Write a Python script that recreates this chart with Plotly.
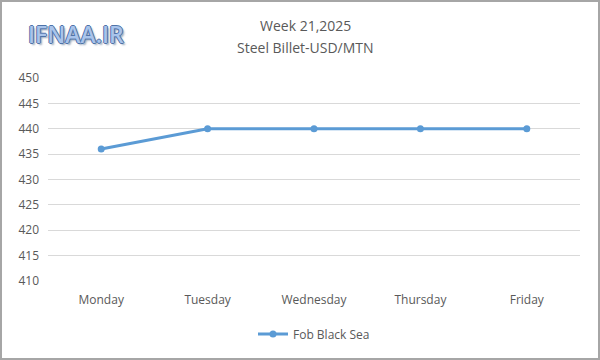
import plotly.graph_objects as go

days = ["Monday", "Tuesday", "Wednesday", "Thursday", "Friday"]
fob_black_sea = [436, 440, 440, 440, 440]
y_ticks = [410, 415, 420, 425, 430, 435, 440, 445, 450]

W, H = 600, 360
L, R, T, B = 48, 20, 78, 79

fig = go.Figure()
fig.add_trace(go.Scatter(
    x=days, y=fob_black_sea, mode="lines+markers", name="Fob Black Sea",
    line=dict(color="#5B9BD5", width=3),
    marker=dict(color="#5B9BD5", size=7),
))

pw = W - L - R
ph = H - T - B
def px(x):
    return (x - L) / pw
def py(y):
    return (H - B - y) / ph

fig.update_layout(
    width=W, height=H,
    margin=dict(l=L, r=R, t=T, b=B, autoexpand=False),
    paper_bgcolor="white", plot_bgcolor="white",
    font=dict(family="Open Sans, Liberation Sans, sans-serif", color="#595959", size=12),
    showlegend=True,
    legend=dict(orientation="h", x=0.5, xanchor="center", y=py(334), yanchor="middle",
                font=dict(size=12, color="#595959")),
    xaxis=dict(type="category", range=[-0.5, 4.5], showgrid=False, showline=False,
               zeroline=False, ticks="", automargin=False, ticklabelstandoff=10,
               tickfont=dict(size=12, color="#595959")),
    yaxis=dict(range=[410, 450], tickvals=y_ticks, showgrid=True, gridcolor="#D9D9D9",
               gridwidth=1, zeroline=False, showline=False, ticks="", automargin=False,
               tickfont=dict(size=12, color="#595959"), ticklabelstandoff=8),
    annotations=[
        dict(text="Week 21,2025", x=px(305), y=py(25),
             xref="paper", yref="paper", showarrow=False, xanchor="center", yanchor="middle",
             font=dict(size=14, color="#595959")),
        dict(text="Steel Billet-USD/MTN", x=px(305), y=py(47),
             xref="paper", yref="paper", showarrow=False, xanchor="center", yanchor="middle",
             font=dict(size=14, color="#595959")),
        dict(text="IFNAA.IR", x=px(26), y=py(34), xref="paper", yref="paper",
             showarrow=False, xanchor="left", yanchor="middle",
             font=dict(size=23, color="#A9C4EB", family="Open Sans, sans-serif", weight=600,
                       shadow="-1px 0 #4F73A8, 1px 0 #4F73A8, 0 1px #4F73A8, 0 -1px #4F73A8, 2px 2px 2px #9AA8BC")),
    ],
    shapes=[
        dict(type="rect", xref="paper", yref="paper", x0=px(1), x1=px(W - 1), y0=py(H - 1), y1=py(1),
             line=dict(color="#A6A6A6", width=2), fillcolor="rgba(0,0,0,0)", layer="below"),
    ],
)

fig.write_html("out.html", config={"displayModeBar": False},
               post_script="document.body.style.margin='0';document.body.style.overflow='hidden';")
